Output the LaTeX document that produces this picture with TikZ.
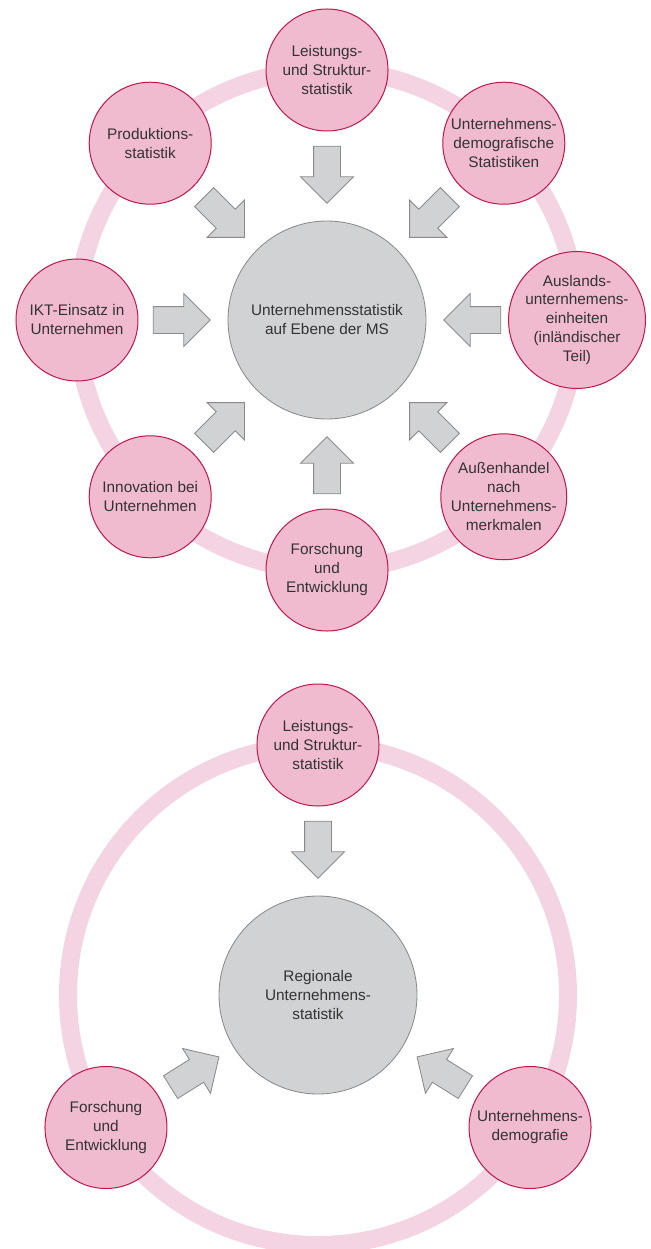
\documentclass[tikz,border=0pt]{standalone}
\usepackage{fontspec}
\setmainfont{Liberation Sans}
\usepackage{tikz}
\usetikzlibrary{shapes.arrows, calc}

\definecolor{ringpink}{HTML}{F4D4E2}
\definecolor{satfill}{HTML}{F0BBCF}
\definecolor{satline}{HTML}{C0164C}
\definecolor{corefill}{HTML}{D1D2D4}
\definecolor{coreline}{HTML}{8A8A8A}
\definecolor{textgray}{HTML}{333333}

\begin{document}
\begin{tikzpicture}[
  x=0.3mm, y=0.3mm,
  font=\fontsize{13.1pt}{16.2pt}\selectfont,
  sat/.style={draw=satline, fill=satfill, line width=0.3mm, circle, minimum size=36.6mm, inner sep=0pt, align=center, text=textgray},
  core/.style={draw=coreline, fill=corefill, line width=0.25mm, circle, minimum size=59.4mm, inner sep=0pt, align=center, text=textgray},
  ring/.style={draw=ringpink, line width=5.4mm},
  feed/.style={single arrow, draw=coreline, fill=corefill, line width=0.25mm, minimum height=17.1mm, inner xsep=0pt, inner ysep=3.9mm, single arrow head extend=3.9mm}
]
\useasboundingbox (0,0) rectangle (650,-1249);

% Member-state level (top)
\coordinate (mc) at (327,-320);
\draw[ring] (mc) circle[radius=75mm];
\node[core] (ms) at (mc) {Unternehmensstatistik\\auf Ebene der MS};

\node[sat] (ls)  at ($(ms)+(90:75mm)$)   {Leistungs-\\und Struktur-\\statistik};
\node[sat] (ud)  at ($(ms)+(45:75mm)$)   {Unternehmens-\\demografische\\Statistiken};
\node[sat] (al)  at ($(ms)+(0:75mm)$)    {Auslands-\\unternhemens-\\einheiten\\(inländischer\\Teil)};
\node[sat] (ah)  at ($(ms)+(-45:75mm)$)  {Außenhandel\\nach\\Unternehmens-\\merkmalen};
\node[sat] (fe)  at ($(ms)+(-90:75mm)$)  {Forschung\\und\\Entwicklung};
\node[sat] (ib)  at ($(ms)+(-135:75mm)$) {Innovation bei\\Unternehmen};
\node[sat] (ikt) at ($(ms)+(180:75mm)$)  {IKT-Einsatz in\\Unternehmen};
\node[sat] (ps)  at ($(ms)+(135:75mm)$)  {Produktions-\\statistik};

% Block arrows into the core
\node[feed, rotate=-90]  (f1) at ($(ms)!45.6mm!(ls)$)  {};
\node[feed, rotate=-135] (f2) at ($(ms)!45.6mm!(ud)$)  {};
\node[feed, rotate=180]  (f3) at ($(ms)!45.6mm!(al)$)  {};
\node[feed, rotate=135]  (f4) at ($(ms)!45.6mm!(ah)$)  {};
\node[feed, rotate=90]   (f5) at ($(ms)!45.6mm!(fe)$)  {};
\node[feed, rotate=45]   (f6) at ($(ms)!45.6mm!(ib)$)  {};
\node[feed, rotate=0]    (f7) at ($(ms)!45.6mm!(ikt)$) {};
\node[feed, rotate=-45]  (f8) at ($(ms)!45.6mm!(ps)$)  {};

% Regional level (bottom)
\coordinate (rc) at (318,-995);
\draw[ring] (rc) circle[radius=75mm];
\node[core] (rus) at (rc) {Regionale\\Unternehmens-\\statistik};

\node[sat] (ls2) at ($(rus)+(90:75mm)$)   {Leistungs-\\und Struktur-\\statistik};
\node[sat] (fe2) at ($(rus)+(-148:75mm)$) {Forschung\\und\\Entwicklung};
\node[sat] (ud2) at ($(rus)+(-32:75mm)$)  {Unternehmens-\\demografie};

\node[feed, rotate=-90] (g1) at ($(rus)!45.6mm!(ls2)$) {};
\node[feed, rotate=32]  (g2) at ($(rus)!45.6mm!(fe2)$) {};
\node[feed, rotate=148] (g3) at ($(rus)!45.6mm!(ud2)$) {};

\end{tikzpicture}
\end{document}
